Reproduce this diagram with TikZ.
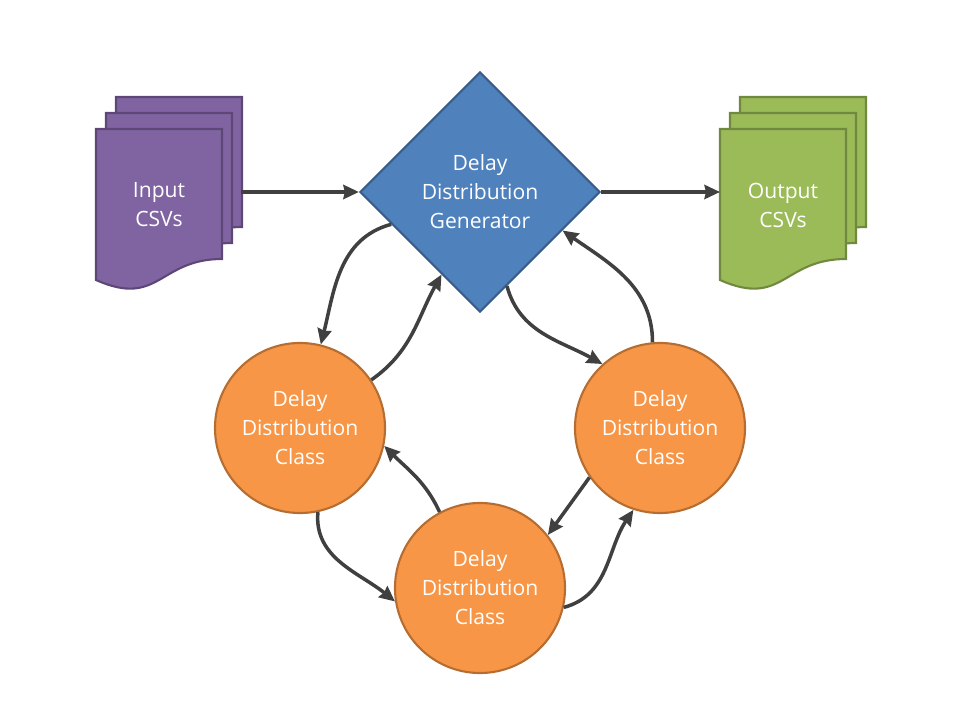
\documentclass[tikz,border=0pt]{standalone}
\usepackage{fontspec}
\setmainfont{Open Sans}
\usetikzlibrary{shapes.geometric,arrows.meta}
\definecolor{docpurple}{HTML}{8064A2}
\definecolor{docpurpleline}{HTML}{5C4776}
\definecolor{docgreen}{HTML}{9BBB59}
\definecolor{docgreenline}{HTML}{71893F}
\definecolor{genblue}{HTML}{4F81BD}
\definecolor{genblueline}{HTML}{385D8A}
\definecolor{classorange}{HTML}{F79646}
\definecolor{classorangeline}{HTML}{B66D31}
\definecolor{arrgray}{HTML}{404040}

\newcommand{\docpage}[3]{\draw[#1] (#2,#3) -- ({#2+126},#3) -- ({#2+126},{#3+130})
  .. controls ({#2+63},{#3+130}) and ({#2+63},{#3+179}) .. (#2,{#3+151}) -- cycle;}

\tikzset{
  labelfont/.style={text=white, align=center, font=\fontsize{15}{20.6}\selectfont},
  arr/.style={line width=2.5pt, draw=arrgray, -{Stealth[inset=1pt,length=11pt,width=10pt]}},
  inpage/.style={fill=docpurple, draw=docpurpleline, line width=1.5pt},
  outpage/.style={fill=docgreen, draw=docgreenline, line width=1.5pt},
  genbox/.style={diamond, aspect=1, minimum size=6cm, inner sep=0pt, fill=genblue, draw=genblueline, line width=1.5pt, labelfont},
  classcirc/.style={circle, minimum size=4.25cm, inner sep=0pt, fill=classorange, draw=classorangeline, line width=1.5pt, labelfont}
}

\begin{document}
\begin{tikzpicture}[x=0.025cm, y=-0.025cm]
  \useasboundingbox (0,0) rectangle (960,720);

  \docpage{inpage}{116}{97}
  \docpage{inpage}{106}{113}
  \docpage{inpage}{96}{129}
  \node[labelfont] (input) at (159,205) {Input\\CSVs};
  \coordinate (inedge) at (241,192);

  \docpage{outpage}{740}{97}
  \docpage{outpage}{730}{113}
  \docpage{outpage}{720}{129}
  \node[labelfont] (output) at (783,205) {Output\\CSVs};
  \coordinate (outedge) at (720,192);

  \node[genbox] (gen) at (480,192) {Delay\\Distribution\\Generator};

  \node[classcirc] (leftclass) at (300,428) {Delay\\Distribution\\Class};
  \node[classcirc] (rightclass) at (660,428) {Delay\\Distribution\\Class};
  \node[classcirc] (lowclass) at (480,588) {Delay\\Distribution\\Class};

  \draw[arr] (inedge) -- (gen.west);
  \draw[arr] (gen.east) -- (outedge);

  \draw[arr] (gen.200) to[out=195,in=76] (leftclass.76);
  \draw[arr] (leftclass.34) to[out=35,in=241] (gen.245);
  \draw[arr] (gen.286) to[out=285,in=151] (rightclass.132);
  \draw[arr] (rightclass.95) to[out=90,in=325] (gen.335);
  \draw[arr] (leftclass.282) to[out=265,in=141] (lowclass.189);
  \draw[arr] (lowclass.118) to[out=115,in=315] (leftclass.348);
  \draw[arr] (rightclass.215) -- (lowclass.38);
  \draw[arr] (lowclass.347) to[out=15,in=236] (rightclass.252);
\end{tikzpicture}
\end{document}
